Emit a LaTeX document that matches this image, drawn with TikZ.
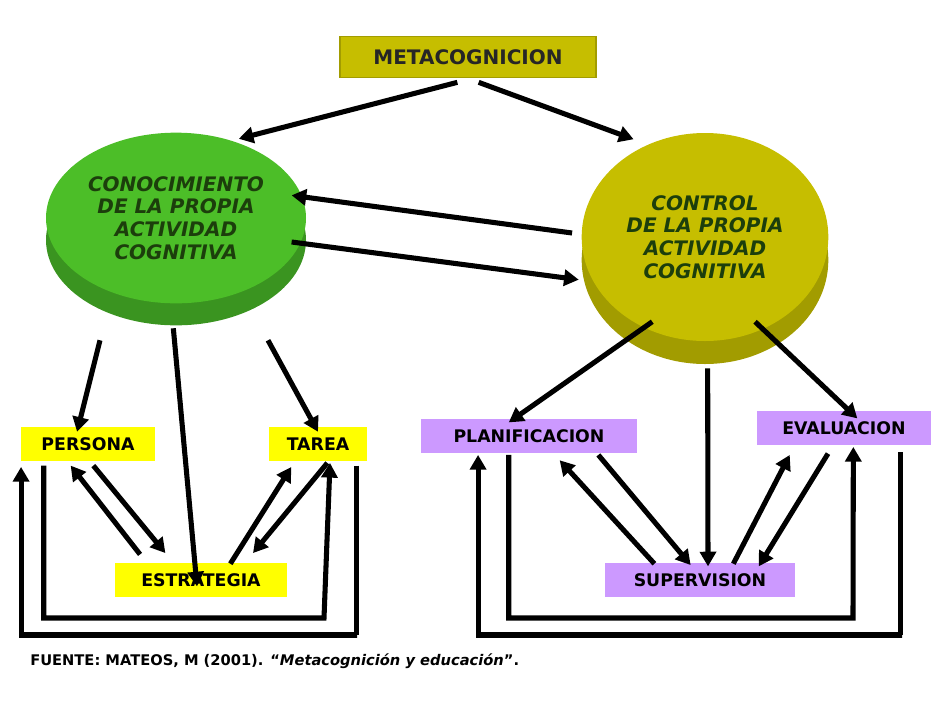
\documentclass[tikz,border=0pt]{standalone}
\usepackage{fontspec}
\setmainfont{DejaVu Sans}
\usetikzlibrary{shapes.geometric, arrows.meta, calc}
\definecolor{verde}{HTML}{4CBE28}
\definecolor{verdeosc}{HTML}{3A9420}
\definecolor{oliva}{HTML}{C6BE00}
\definecolor{olivaosc}{HTML}{A29C00}
\definecolor{textoverde}{HTML}{1C3E0C}
\definecolor{amarillo}{HTML}{FFFF00}
\definecolor{lila}{HTML}{CC99FF}
\begin{document}
\begin{tikzpicture}[x=0.75pt, y=-0.75pt,
    flecha/.style={line width=3.8pt, -{Triangle[length=11pt,width=12pt]}},
    linea/.style={line width=3.8pt},
    bignode/.style={ellipse, inner sep=0pt, font=\bfseries\itshape\fontsize{15}{17}\selectfont,
      text=textoverde, align=center},
    labelnode/.style={font=\bfseries\fontsize{13}{15}\selectfont, inner sep=0pt,
      minimum height=26pt}]
    \useasboundingbox (0,0) rectangle (932,718);
      % titulo
      \node[fill=oliva, draw=olivaosc, line width=1pt, minimum width=192pt, minimum height=31pt,
        font=\bfseries\fontsize{15}{17}\selectfont, text=black!85]
      (meta) at (468,57)
      {METACOGNICION};

      % elipses
      \node[ellipse, fill=verdeosc, minimum width=195pt, minimum height=128pt]
      (conocB) at (176,240) {};
      \node[bignode, fill=verde, minimum width=195pt, minimum height=128pt]
      (conoc) at (176,218)
      {CONOCIMIENTO\\DE LA PROPIA\\ACTIVIDAD\\COGNITIVA};

      \node[ellipse, fill=olivaosc, minimum width=185pt, minimum height=156pt]
      (controlB) at (705,260) {};
      \node[bignode, fill=oliva, minimum width=185pt, minimum height=156pt]
      (control) at (705,237)
      {CONTROL\\DE LA PROPIA\\ACTIVIDAD\\COGNITIVA};

      % cajas
      \node[labelnode, fill=amarillo, minimum width=100pt] (persona) at (88,444) {PERSONA};
      \node[labelnode, fill=amarillo, minimum width=74pt] (tarea) at (318,444) {TAREA};
      \node[labelnode, fill=amarillo, minimum width=129pt] (estrat) at (201,580) {ESTRATEGIA};
      \node[labelnode, fill=lila, minimum width=162pt] (planif) at (529,436) {PLANIFICACION};
      \node[labelnode, fill=lila, minimum width=131pt] (evalu) at (844,428) {EVALUACION};
      \node[labelnode, fill=lila, minimum width=142pt] (superv) at (700,580) {SUPERVISION};

      % esquinas
      \coordinate (c1) at (45,618);
      \coordinate (c2) at (324,618);
      \coordinate (c3) at (357,635);
      \coordinate (c4) at (22,635);
      \coordinate (c5) at (509,618);
      \coordinate (c6) at (853,618);
      \coordinate (c7) at (902,635);
      \coordinate (c8) at (478,635);

      \draw[flecha] ($(meta.south)+(-8pt,-3pt)$) -- ($(conoc.north east)+(-22pt,14pt)$);
      \draw[flecha] ($(meta.south)+(8pt,-3pt)$) -- ($(control.north west)+(12pt,18pt)$);
      \draw[flecha] ($(conoc.east)+(-11pt,-18pt)$) -- ($(control.west)+(-2pt,-32pt)$);
      \draw[flecha] ($(control.west)+(-7pt,3pt)$) -- ($(conoc.east)+(-11pt,17pt)$);

      \draw[flecha] ($(conocB.south)+(-57pt,-11pt)$) -- ($(persona.north west)+(42pt,-4pt)$);
      \draw[flecha] ($(conocB.south)+(-2pt,-2pt)$) -- ($(estrat.north)+(-3pt,-18pt)$);
      \draw[flecha] ($(conocB.south)+(69pt,-11pt)$) -- ($(tarea.north)+(0pt,-4pt)$);

      \draw[flecha] ($(controlB.south west)+(26pt,9pt)$) -- ($(planif.north west)+(66pt,-3pt)$);
      \draw[flecha] ($(controlB.south)+(2pt,-3pt)$) -- ($(superv.north)+(6pt,-3pt)$);
      \draw[flecha] ($(controlB.south east)+(-28pt,9pt)$) -- ($(evalu.north)+(10pt,-6pt)$);

      % flechas de abajo, izquierda
      \draw[flecha] ($(estrat.north west)+(19pt,6pt)$) -- ($(persona.south)+(-13pt,-3pt)$);
      \draw[flecha] ($(persona.south)+(4pt,-3pt)$) -- ($(estrat.north west)+(38pt,7pt)$);
      \draw[flecha] ($(estrat.north)+(22pt,-1pt)$) -- ($(tarea.south)+(-20pt,-4pt)$);
      \draw[flecha] ($(tarea.south)+(7pt,-1pt)$) -- ($(estrat.north)+(39pt,7pt)$);
      \draw[flecha] ($(persona.south west)+(17pt,-3pt)$) |- (c1) -- (c2) -- ($(tarea.south)+(9pt,-1pt)$);
      \draw[flecha] ($(tarea.south east)+(-8pt,-3pt)$) |- (c3) -| ($(persona.south west)+(0pt,-4pt)$);

      % flechas de abajo, derecha
      \draw[flecha] ($(superv.north west)+(37pt,-1pt)$) -- ($(planif.south)+(23pt,-5pt)$);
      \draw[flecha] ($(planif.south)+(52pt,-1pt)$) -- ($(superv.north)+(-7pt,-2pt)$);
      \draw[flecha] ($(superv.north)+(25pt,-1pt)$) -- ($(evalu.south west)+(25pt,-7pt)$);
      \draw[flecha] ($(evalu.south)+(-12pt,-6pt)$) -- ($(superv.north)+(44pt,-3pt)$);
      \draw[flecha] ($(planif.south west)+(66pt,-1pt)$) |- (c5) -- (c6) -- ($(evalu.south)+(7pt,-1pt)$);
      \draw[flecha] ($(evalu.south east)+(-23pt,-5pt)$) |- (c7) -| ($(planif.south west)+(43pt,-1pt)$);

      % fuente
      \node[anchor=west, font=\bfseries\fontsize{11}{13}\selectfont, inner sep=0pt]
      (fuente) at (30,661)
      {FUENTE: MATEOS, M (2001). “\textit{Metacognición y educación}”.};
    \end{tikzpicture}
\end{document}
